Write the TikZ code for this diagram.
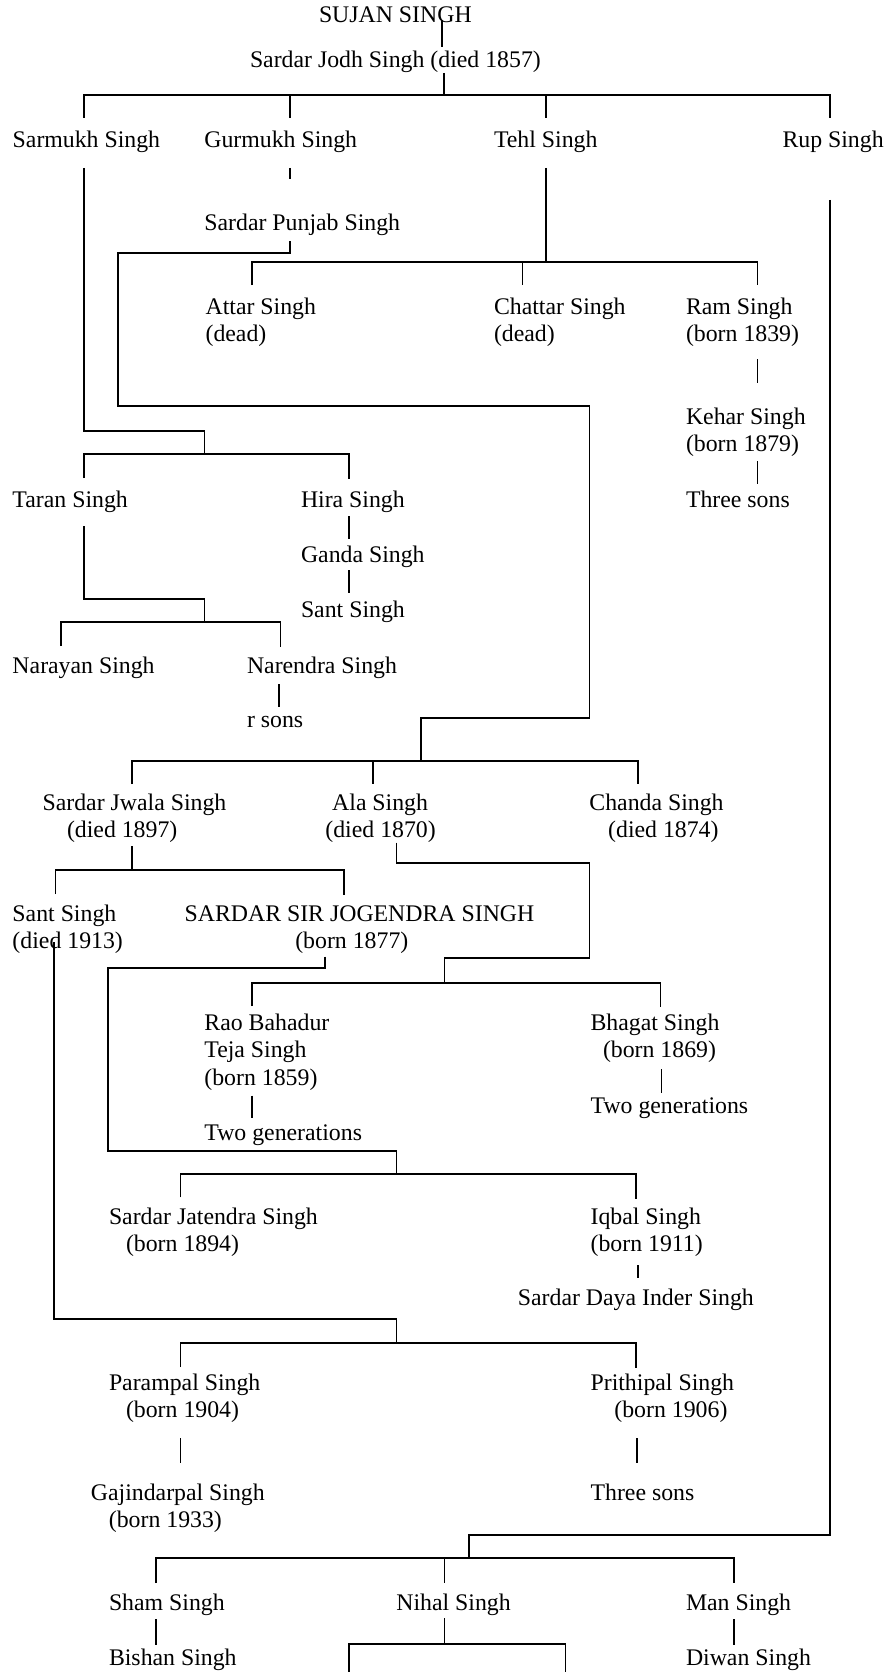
\documentclass[tikz,border=0pt]{standalone}
\usepackage{fontspec}
\setmainfont{Liberation Serif}
\newcommand\famfont{\fontsize{23.8}{27.6}\selectfont}
\begin{document}
\begin{tikzpicture}[x=1pt,y=-1pt,
  person/.style={anchor=base west, inner sep=0pt, outer sep=0pt, font=\famfont, align=left},
  twoline/.style={person, yshift=-27.6pt},
  threeline/.style={person, yshift=-55.2pt},
  ln/.style={line width=1.7pt, line cap=butt, line join=miter}]
\useasboundingbox (0,0) rectangle (888,1672);

% ---- text nodes (positions are first-line baselines)
\node[person] (sujan) at (319,22.7) {SUJAN SINGH};
\node[person] (jodh) at (250,68) {Sardar Jodh Singh (died 1857)};
\node[person] (sarmukh) at (12.7,148) {Sarmukh Singh};
\node[person] (gurmukh) at (204.4,148) {Gurmukh Singh};
\node[person] (tehl) at (494,148) {Tehl Singh};
\node[person] (rup) at (782.5,148) {Rup Singh};
\node[person] (punjab) at (204.4,230) {Sardar Punjab Singh};
\node[twoline] (attar) at (205.6,314) {Attar Singh\\(dead)};
\node[twoline] (chattar) at (494,314) {Chattar Singh\\(dead)};
\node[twoline] (ram) at (686,314) {Ram Singh\\(born 1839)};
\node[twoline] (kehar) at (686,424) {Kehar Singh\\(born 1879)};
\node[person] (threesonsA) at (686,507) {Three sons};
\node[person] (taran) at (12.5,507) {Taran Singh};
\node[person] (hira) at (301,507) {Hira Singh};
\node[person] (ganda) at (301,562) {Ganda Singh};
\node[person] (santA) at (301,617) {Sant Singh};
\node[person] (narayan) at (12.5,673) {Narayan Singh};
\node[person] (narendra) at (247,673) {Narendra Singh};
\node[person] (rsons) at (247,727.5) {r sons};
\node[twoline] (jwala) at (42.6,810) {Sardar Jwala Singh\\\hspace*{24.4pt}(died 1897)};
\node[twoline] (ala) at (325.4,810) {\hspace*{6.8pt}Ala Singh\\(died 1870)};
\node[twoline] (chanda) at (589.4,810) {Chanda Singh\\\hspace*{18.8pt}(died 1874)};
\node[twoline] (santB) at (12.5,921) {Sant Singh\\(died 1913)};
\node[twoline] (jogendra) at (184.6,921) {SARDAR SIR JOGENDRA SINGH\\\hspace*{110.7pt}(born 1877)};
\node[threeline] (rao) at (204.4,1030) {Rao Bahadur\\Teja Singh\\(born 1859)};
\node[person] (twogenA) at (204.4,1140) {Two generations};
\node[twoline] (bhagat) at (590.6,1030) {Bhagat Singh\\\hspace*{12.4pt}(born 1869)};
\node[person] (twogenB) at (590.6,1113.3) {Two generations};
\node[twoline] (jatendra) at (109,1224.3) {Sardar Jatendra Singh\\\hspace*{17pt}(born 1894)};
\node[twoline] (iqbal) at (590.6,1224.3) {Iqbal Singh\\(born 1911)};
\node[person] (daya) at (517.9,1305.7) {Sardar Daya Inder Singh};
\node[twoline] (parampal) at (109,1390) {Parampal Singh\\\hspace*{17pt}(born 1904)};
\node[twoline] (prithipal) at (590.6,1390) {Prithipal Singh\\\hspace*{23.8pt}(born 1906)};
\node[twoline] (gajindarpal) at (90.9,1500) {Gajindarpal Singh\\\hspace*{18pt}(born 1933)};
\node[person] (threesonsB) at (590.6,1500) {Three sons};
\node[person] (sham) at (109,1610) {Sham Singh};
\node[person] (nihal) at (396.4,1610) {Nihal Singh};
\node[person] (man) at (686,1610) {Man Singh};
\node[person] (bishan) at (109,1665) {Bishan Singh};
\node[person] (diwan) at (686,1665) {Diwan Singh};

% ---- junction coordinates
\coordinate (sujanOut) at (442,20);
\coordinate (jodhIn) at (442,47);
\coordinate (jodhOut) at (444,73);
\coordinate (barA) at (444,95);

% ---- connectors
\draw[ln] (sujanOut) -- (jodhIn);
\draw[ln] (jodhOut) -- (barA);
\draw[ln] (84,118) -- (84,95) -- (830,95) -- (830,118);
\draw[ln] (290,95) -- (290,118);
\draw[ln] (545.7,95) -- (545.7,118);

% Sarmukh -> Taran, Hira
\draw[ln] (84,168) -- (84,431) -- (204.4,431) -- (204.4,454);
\draw[ln] (84,478) -- (84,454) -- (348.7,454) -- (348.7,479);

% Gurmukh -> Punjab
\draw[ln] (290,168) -- (290,179);
% Punjab -> Jwala, Ala, Chanda
\draw[ln] (290,241) -- (290,252.7) -- (118,252.7) -- (118,406) -- (589.4,406) -- (589.4,718.3) -- (420.8,718.3) -- (420.8,761.3);
\draw[ln] (131.7,784) -- (131.7,761.3) -- (637.7,761.3) -- (637.7,784);
\draw[ln] (373,761.3) -- (373,784);

% Tehl -> Attar, Chattar, Ram
\draw[ln] (545.7,168) -- (545.7,262);
\draw[ln] (252,285) -- (252,262) -- (757.5,262) -- (757.5,285);
\draw[ln] (522.4,262) -- (522.4,285);
\draw[ln] (757.5,359.3) -- (757.5,383.3);
\draw[ln] (757.5,461) -- (757.5,484.3);

% Rup -> Sham, Nihal, Man
\draw[ln] (830,200) -- (830,1535) -- (469,1535) -- (469,1558.3);
\draw[ln] (156,1583) -- (156,1558.3) -- (733.7,1558.3) -- (733.7,1583);
\draw[ln] (444.6,1558.3) -- (444.6,1583);

% Hira -> Ganda -> Sant
\draw[ln] (348.7,516) -- (348.7,539.3);
\draw[ln] (348.7,570) -- (348.7,593.3);

% Taran -> Narayan, Narendra
\draw[ln] (84,526) -- (84,599) -- (204.4,599) -- (204.4,622.3);
\draw[ln] (61.3,646) -- (61.3,622.3) -- (280.5,622.3) -- (280.5,647);
\draw[ln] (278.8,684) -- (278.8,706.7);

% Jwala -> Sant, Jogendra
\draw[ln] (131.7,846) -- (131.7,870);
\draw[ln] (55.6,894) -- (55.6,870) -- (344,870) -- (344,895);

% Ala -> Rao, Bhagat
\draw[ln] (396.4,842.7) -- (396.4,863.3) -- (589.4,863.3) -- (589.4,958.3) -- (444.6,958.3) -- (444.6,982.7);
\draw[ln] (252,1006) -- (252,982.7) -- (660.4,982.7) -- (660.4,1007);
\draw[ln] (252,1095.7) -- (252,1118.3);
\draw[ln] (661.5,1069) -- (661.5,1092.7);

% Sant (died 1913) -> Parampal, Prithipal
\draw[ln] (54,942) -- (54,1319) -- (396.4,1319) -- (396.4,1343.3);
\draw[ln] (180.6,1367) -- (180.6,1343.3) -- (636,1343.3) -- (636,1368);

% Jogendra -> Jatendra, Iqbal
\draw[ln] (324.8,956.7) -- (324.8,968.3) -- (108,968.3) -- (108,1151) -- (396.4,1151) -- (396.4,1174.3);
\draw[ln] (180.6,1197.3) -- (180.6,1174.3) -- (636,1174.3) -- (636,1199);
\draw[ln] (638.3,1265) -- (638.3,1278.3);

% Parampal -> Gajindarpal, Prithipal -> Three sons
\draw[ln] (180.6,1438.3) -- (180.6,1463.3);
\draw[ln] (637,1438.3) -- (637,1463.3);

% Sham, Nihal, Man
\draw[ln] (156,1619.3) -- (156,1645);
\draw[ln] (444.6,1618.3) -- (444.6,1644);
\draw[ln] (348.7,1672) -- (348.7,1644) -- (565.6,1644) -- (565.6,1672);
\draw[ln] (733.7,1619) -- (733.7,1645);
\end{tikzpicture}
\end{document}
